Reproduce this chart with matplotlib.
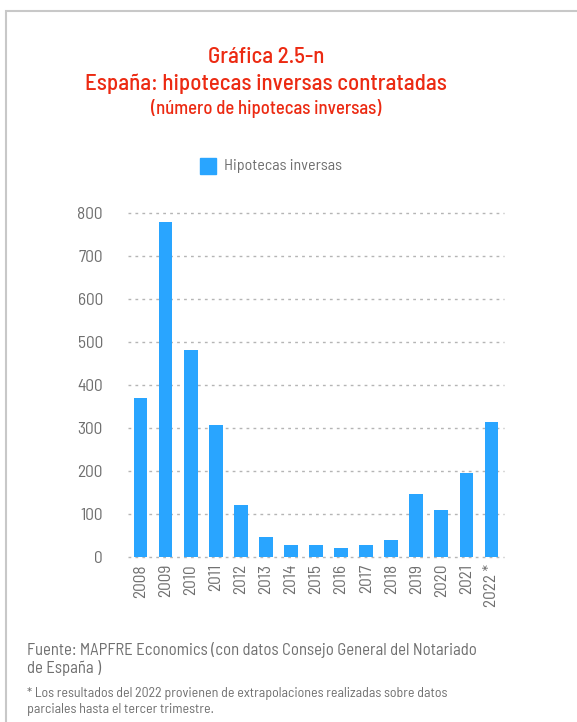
import matplotlib

matplotlib.use("Agg")

import matplotlib.pyplot as plt
from matplotlib import font_manager
from matplotlib.patches import Rectangle

available = {f.name for f in font_manager.fontManager.ttflist}
candidates = ["Barlow Semi Condensed", "Roboto Condensed", "Liberation Sans Narrow", "Roboto"]
_FONT = next((c for c in candidates if c in available), "DejaVu Sans")
plt.rcParams["font.family"] = [_FONT, "DejaVu Sans"]

_RED = "#ec2a12"
_BLUE = "#29a5ff"
_GRAY = "#6f6f6f"

years = ["2008", "2009", "2010", "2011", "2012", "2013", "2014", "2015",
         "2016", "2017", "2018", "2019", "2020", "2021", "2022 *"]
hipotecas = [370, 780, 482, 307, 121, 46, 28, 28, 21, 28, 40, 147, 109, 195, 314]
yticks = [0, 100, 200, 300, 400, 500, 600, 700, 800]

W, H = 577, 722
fig = plt.figure(figsize=(W / 100, H / 100), dpi=100)

# marco gris
fig.add_artist(Rectangle((6 / W, -0.1), 2.0, 1 - 11 / H + 0.1, transform=fig.transFigure,
                         fill=False, edgecolor="#c8c8c8", linewidth=1.5))

ax = fig.add_axes([128 / W, 1 - 557 / H, (504 - 128) / W, (557 - 213) / H])
x = range(len(years))
ax.bar(x, hipotecas, width=0.55, color=_BLUE)
ax.set_xlim(-0.5, len(years) - 0.5)
ax.set_ylim(0, 800)
ax.set_yticks(yticks)
ax.set_xticks(list(x))
ax.set_xticklabels(years, rotation=90)
for y in yticks:
    ax.axhline(y, color="#b5b5b5", linestyle=(0, (2, 3)), linewidth=1, zorder=0, clip_on=False)
for s in ax.spines.values():
    s.set_visible(False)
ax.tick_params(length=0, colors=_GRAY, labelsize=12.5)
ax.tick_params(axis="y", pad=18)
ax.tick_params(axis="x", pad=5)

fig.text(266 / W, 1 - 57 / H, "Gráfica 2.5-n", color=_RED, fontsize=16.5, fontweight="medium",
         ha="center", va="center")
fig.text(266 / W, 1 - 84 / H, "España: hipotecas inversas contratadas", color=_RED,
         fontsize=16.5, fontweight="medium", ha="center", va="center")
fig.text(266 / W, 1 - 108 / H, "(número de hipotecas inversas)", color=_RED,
         fontsize=13.5, fontweight="medium", ha="center", va="center")

fig.add_artist(Rectangle((200 / W, 1 - 174 / H), 16 / W, 16 / H, transform=fig.transFigure,
                         color=_BLUE))
fig.text(224 / W, 1 - 166 / H, "Hipotecas inversas", color=_GRAY, fontsize=11.5,
         ha="left", va="center")

fig.text(27 / W, 1 - 650 / H, "Fuente: MAPFRE Economics (con datos Consejo General del Notariado",
         color=_GRAY, fontsize=12, ha="left", va="center")
fig.text(27 / W, 1 - 668 / H, "de España )", color=_GRAY, fontsize=12, ha="left", va="center")
fig.text(27 / W, 1 - 694 / H,
         "* Los resultados del 2022 provienen de extrapolaciones realizadas sobre datos",
         color=_GRAY, fontsize=10, ha="left", va="center")
fig.text(27 / W, 1 - 709 / H, "parciales hasta el tercer trimestre.", color=_GRAY, fontsize=10,
         ha="left", va="center")

fig.savefig("out.png", dpi=100)
plt.close(fig)
